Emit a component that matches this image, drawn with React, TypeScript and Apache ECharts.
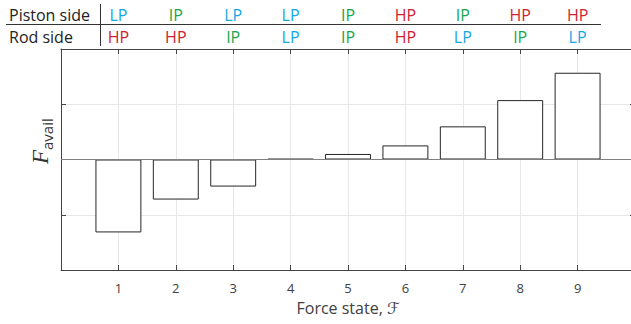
import React, { useEffect, useRef } from "react";
import * as echarts from "echarts";

const forceStates = [1, 2, 3, 4, 5, 6, 7, 8, 9];
const availValues = [-1.32, -0.725, -0.49, 0.01, 0.1, 0.255, 0.6, 1.075, 1.57];
const pistonSide = ["LP", "IP", "LP", "LP", "IP", "HP", "IP", "HP", "HP"];
const rodSide = ["HP", "HP", "IP", "LP", "IP", "HP", "LP", "IP", "LP"];
const pressureColors: Record<string, string> = {
  LP: "#14a7e6",
  IP: "#17a64b",
  HP: "#d1202f",
};

const GRID_LEFT = 61;
const GRID_TOP = 49;
const GRID_W = 574;
const GRID_H = 221;
const X_MAX = 10;
const FONT = "'Open Sans', 'DejaVu Sans', sans-serif";

export default function App() {
  const ref = useRef<HTMLDivElement>(null);
  useEffect(() => {
    if (!ref.current) return;
    const chart = echarts.init(ref.current, null, { renderer: "svg" });
    const xPx = (v: number) => GRID_LEFT + (v / X_MAX) * GRID_W;

    const tableTexts: any[] = [];
    forceStates.forEach((s, i) => {
      tableTexts.push({
        type: "text",
        x: xPx(s),
        y: 14.5,
        style: {
          text: pistonSide[i],
          fill: pressureColors[pistonSide[i]],
          font: `16px ${FONT}`,
          align: "center",
          verticalAlign: "middle",
        },
      });
      tableTexts.push({
        type: "text",
        x: xPx(s),
        y: 36.5,
        style: {
          text: rodSide[i],
          fill: pressureColors[rodSide[i]],
          font: `16px ${FONT}`,
          align: "center",
          verticalAlign: "middle",
        },
      });
    });

    const axisLine = { show: true, onZero: false, lineStyle: { color: "#444", width: 1 } };
    const axisTick = { show: true, inside: true, length: 5, lineStyle: { color: "#444" } };

    const option: any = {
      animation: false,
      backgroundColor: "#ffffff",
      grid: {
        left: GRID_LEFT,
        top: GRID_TOP,
        width: GRID_W,
        height: GRID_H,
        containLabel: false,
        outerBoundsMode: "none",
      },
      xAxis: [
        {
          type: "value",
          position: "bottom",
          min: 0,
          max: X_MAX,
          interval: 1,
          axisLine,
          axisTick,
          axisLabel: {
            show: true,
            margin: 11,
            color: "#404040",
            fontSize: 13,
            fontFamily: FONT,
            formatter: (v: number) => (v >= 1 && v <= 9 ? String(v) : ""),
          },
          splitLine: { show: true, lineStyle: { color: "#e8e8e8", width: 1 } },
        },
        {
          type: "value",
          position: "top",
          min: 0,
          max: X_MAX,
          interval: 1,
          axisLine,
          axisTick,
          axisLabel: { show: false },
          splitLine: { show: false },
        },
      ],
      yAxis: [
        {
          type: "value",
          position: "left",
          min: -2,
          max: 2,
          interval: 1,
          axisLine,
          axisTick,
          axisLabel: { show: false },
          splitLine: { show: true, lineStyle: { color: "#e8e8e8", width: 1 } },
        },
        {
          type: "value",
          position: "right",
          min: -2,
          max: 2,
          interval: 1,
          axisLine,
          axisTick,
          axisLabel: { show: false },
          splitLine: { show: false },
        },
      ],
      series: [
        {
          type: "bar",
          xAxisIndex: 0,
          yAxisIndex: 0,
          data: forceStates.map((s, i) => [s, availValues[i]]),
          barWidth: 0.8 * (GRID_W / X_MAX),
          itemStyle: { color: "#ffffff", borderColor: "#262626", borderWidth: 1 },
          markLine: {
            silent: true,
            symbol: "none",
            label: { show: false },
            lineStyle: { color: "#808080", width: 1, type: "solid" },
            data: [{ yAxis: 0 }],
          },
          z: 3,
        },
      ],
      graphic: [
        {
          type: "text",
          x: 9,
          y: 14.5,
          style: { text: "Piston side", fill: "#222", font: `16px ${FONT}`, align: "left", verticalAlign: "middle" },
        },
        {
          type: "text",
          x: 9,
          y: 36.5,
          style: { text: "Rod side", fill: "#222", font: `16px ${FONT}`, align: "left", verticalAlign: "middle" },
        },
        {
          type: "line",
          shape: { x1: 100.5, y1: 4, x2: 100.5, y2: 46 },
          style: { stroke: "#333", lineWidth: 1 },
        },
        {
          type: "line",
          shape: { x1: 6, y1: 24.5, x2: 601, y2: 24.5 },
          style: { stroke: "#333", lineWidth: 1 },
        },
        ...tableTexts,
        {
          type: "group",
          x: 52,
          y: 150,
          rotation: Math.PI / 2,
          children: [
            {
              type: "text",
              x: 0,
              y: 0,
              style: {
                text: "F",
                fill: "#333",
                font: `italic 23px 'Liberation Serif', 'DejaVu Serif', serif`,
                align: "right",
                verticalAlign: "bottom",
              },
            },
            {
              type: "text",
              x: 0,
              y: 2,
              style: {
                text: "avail",
                fill: "#333",
                font: `15px ${FONT}`,
                align: "left",
                verticalAlign: "bottom",
              },
            },
          ],
        },
        {
          type: "text",
          x: GRID_LEFT + GRID_W / 2,
          y: 308,
          style: {
            text: "Force state, \u2131",
            fill: "#404040",
            font: `16px ${FONT}`,
            align: "center",
            verticalAlign: "middle",
          },
        },
      ],
    };
    chart.setOption(option);
    return () => chart.dispose();
  }, []);
  return (
    <div
      ref={ref}
      style={{ position: "fixed", left: 0, top: 0, width: 631, height: 324, background: "#fff" }}
    />
  );
}
